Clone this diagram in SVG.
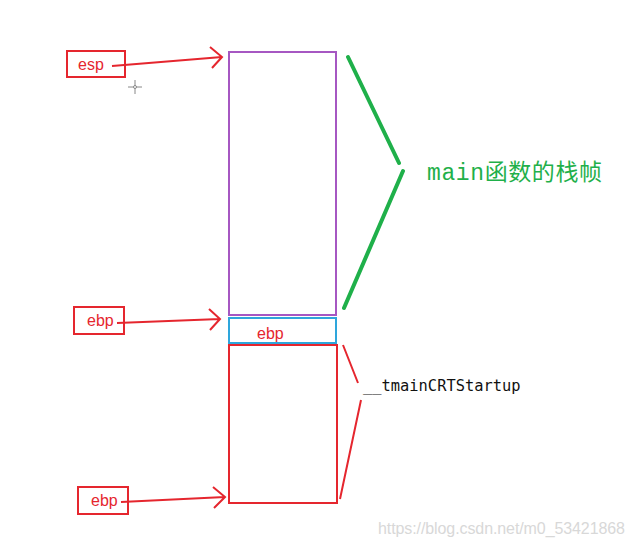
<svg xmlns="http://www.w3.org/2000/svg" width="635" height="546" viewBox="0 0 635 546">
<style>
.red{fill:none;stroke:#e5262e;stroke-width:2}
.lbl{font-family:'Liberation Sans',Arial,sans-serif;font-size:16px;fill:#e5262e}
.green{fill:none;stroke:#1fb04a;stroke-width:4;stroke-linecap:round}
</style>
<rect width="635" height="546" fill="#fff"/>
<g id="stack">
  <g id="main-frame"><rect x="229" y="52" width="107" height="263" fill="none" stroke="#a657c2" stroke-width="2"/></g>
  <g id="saved-ebp"><rect x="229" y="318" width="107" height="25" fill="none" stroke="#2ea6dc" stroke-width="2"/>
    <text x="257" y="339" class="lbl" font-size="17">ebp</text></g>
  <g id="crt-frame"><rect x="229" y="345" width="108" height="158" class="red"/></g>
</g>
<g id="esp"><rect x="67" y="51" width="58" height="26" class="red"/><text x="78" y="70" class="lbl">esp</text></g>
<g id="ebp1"><rect x="74" y="307" width="50" height="27" class="red"/><text x="87" y="326" class="lbl">ebp</text></g>
<g id="ebp2"><rect x="78" y="487" width="50" height="27" class="red"/><text x="91" y="506" class="lbl">ebp</text></g>
<g id="connectors">
  <path class="red" d="M112 66 L222 57 M210 47 L222 57 L212 68"/>
  <path class="red" d="M117 323 L220 319 M209 309 L220 319 L210 330"/>
  <path class="red" d="M121 502 L225 497 M213 487 L225 497 L214 508"/>
  <path class="green" d="M348 57 L399 163 M403 171 L344 308"/>
  <path class="red" d="M343 345 L358 383 M361 400 L340 499"/>
</g>
<g id="labels">
  <text x="427" y="180" font-family="'Liberation Mono','Noto Sans CJK SC',monospace" font-size="23" fill="#1fb04a" textLength="175">main函数的栈帧</text>
  <text x="363" y="391" font-family="'DejaVu Sans Mono',monospace" font-size="15.4" fill="#111">__tmainCRTStartup</text>
</g>
<g id="cursor" stroke="#888" stroke-width="1" fill="none">
  <path d="M135 80 V94 M128 87 H142"/>
  <circle cx="135" cy="87" r="1.5" fill="#fff"/>
</g>
<text x="378" y="534" font-family="'Liberation Sans',Arial,sans-serif" font-size="16" fill="#d8d8d8" textLength="247">https://blog.csdn.net/m0_53421868</text>
</svg>
